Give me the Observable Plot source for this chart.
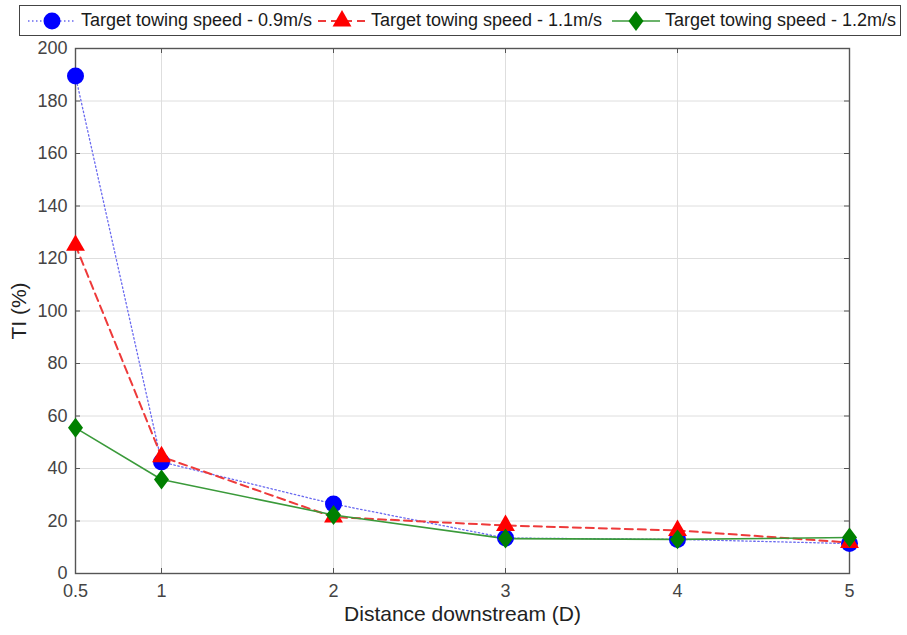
<!DOCTYPE html>
<html>
<head>
<meta charset="utf-8">
<script src="https://cdn.jsdelivr.net/npm/d3@7"></script>
<script src="https://cdn.jsdelivr.net/npm/@observablehq/plot@0.6"></script>
<style>
  html, body { margin: 0; padding: 0; background: #fff; }
  #wrap { position: relative; width: 907px; height: 635px; font-family: "Liberation Sans", Arial, sans-serif; }
  #legend { position: absolute; left: 19px; top: 5px; width: 880px; height: 29px; border: 1.5px solid #444;
            background: #fff; font-size: 18px; color: #1a1a1a; z-index: 2; }
  .item { position: absolute; top: 0; height: 29px; display: flex; align-items: center; }
  .item svg { display: block; }
  #chart { position: absolute; left: 0; top: 0; }
</style>
</head>
<body>
<div id="wrap">
  <div id="legend"></div>
  <div id="chart"></div>
</div>
<script>
const distance = [0.5, 1, 2, 3, 4, 5];
const ti09 = [189.5, 42.5, 26.5, 13.5, 13.0, 11.4];
const ti11 = [125.0, 44.5, 21.5, 18.3, 16.4, 11.8];
const ti12 = [55.5, 35.8, 22.3, 13.3, 13.0, 13.7];
const seriesNames = ["Target towing speed - 0.9m/s", "Target towing speed - 1.1m/s", "Target towing speed - 1.2m/s"];
const xTicks = [0.5, 1, 2, 3, 4, 5];
const yTicks = [0, 20, 40, 60, 80, 100, 120, 140, 160, 180, 200];

// MATLAB-like diamond: height 4/3 of width
const matDiamond = {
  draw(context, size) {
    const y = Math.sqrt(size / 1.5), x = y * 0.75;
    context.moveTo(0, -y); context.lineTo(x, 0); context.lineTo(0, y); context.lineTo(-x, 0); context.closePath();
  }
};
const symbolMap = {circle: d3.symbolCircle, triangle: d3.symbolTriangle, diamond: matDiamond};

const styles = [
  {line: "#6a6af0", width: 1.3, dash: "1.5,2.5", fill: "#0000ff", symbol: "circle", r: 8.5},
  {line: "#ee3a3a", width: 2, dash: "8,5", fill: "#ff0000", symbol: "triangle", r: 7},
  {line: "#3a9a3a", width: 1.6, dash: null, fill: "#008000", symbol: "diamond", r: 6.9}
];
const values = [ti09, ti11, ti12];
const data = values.map((vals, i) => distance.map((d, j) => ({x: d, y: vals[j], s: seriesNames[i]})));

const W = 907, H = 635, mL = 75, mR = 58, mT = 48, mB = 62;
const innerW = W - mL - mR, innerH = H - mT - mB, tk = 5;
const axisColor = "#555";

const marks = [
  Plot.gridX(xTicks, {stroke: "#dedede", strokeOpacity: 1}),
  Plot.gridY(yTicks, {stroke: "#dedede", strokeOpacity: 1}),
  // inward ticks on all four sides (MATLAB box style)
  Plot.tickY(yTicks, {y: d => d, insetRight: innerW - tk, stroke: axisColor}),
  Plot.tickY(yTicks, {y: d => d, insetLeft: innerW - tk, stroke: axisColor}),
  Plot.tickX(xTicks, {x: d => d, insetTop: innerH - tk, stroke: axisColor}),
  Plot.tickX(xTicks, {x: d => d, insetBottom: innerH - tk, stroke: axisColor}),
  Plot.frame({stroke: axisColor, strokeWidth: 1.4}),
  Plot.axisX(xTicks, {anchor: "bottom", tickSize: 0, tickPadding: 11, fontSize: 18, color: "#444",
    tickFormat: d => String(d), label: "Distance downstream (D)", labelAnchor: "center", labelArrow: "none", labelOffset: 47}),
  Plot.axisY(yTicks, {anchor: "left", tickSize: 0, tickPadding: 8, fontSize: 18, color: "#444",
    label: "TI (%)", labelAnchor: "center", labelArrow: "none", labelOffset: 64})
];
data.forEach((arr, i) => {
  const st = styles[i];
  marks.push(Plot.line(arr, {x: "x", y: "y", stroke: st.line, strokeWidth: st.width, strokeDasharray: st.dash}));
});
data.forEach((arr, i) => {
  const st = styles[i];
  marks.push(Plot.dot(arr, {x: "x", y: "y", symbol: () => symbolMap[st.symbol], r: st.r, fill: st.fill, stroke: "none"}));
});

const chart = Plot.plot({
  width: W,
  height: H,
  marginLeft: mL,
  marginRight: mR,
  marginTop: mT,
  marginBottom: mB,
  style: {fontFamily: "'Liberation Sans', Arial, sans-serif", fontSize: "18px", color: "#333", background: "#fff"},
  x: {type: "linear", domain: [0.5, 5]},
  y: {type: "linear", domain: [0, 200]},
  symbol: {type: "identity"},
  marks
});
// larger axis titles
chart.querySelectorAll("g[aria-label='x-axis label'] text, g[aria-label='y-axis label'] text").forEach(t => {
  t.setAttribute("font-size", "21px");
  t.style.fontSize = "21px";
  t.setAttribute("fill", "#222");
});
document.getElementById("chart").append(chart);

// legend
const legend = document.getElementById("legend");
const itemLeft = [7, 297, 591];
seriesNames.forEach((name, i) => {
  const st = styles[i];
  const item = document.createElement("div");
  item.className = "item";
  item.style.left = itemLeft[i] + "px";
  const w = 50, h = 26;
  const svg = d3.create("svg").attr("width", w).attr("height", h);
  svg.append("line").attr("x1", 1).attr("x2", w - 1).attr("y1", h / 2).attr("y2", h / 2)
    .attr("stroke", st.line).attr("stroke-width", st.width).attr("stroke-dasharray", st.dash);
  svg.append("path").attr("d", d3.symbol(symbolMap[st.symbol], Math.PI * st.r * st.r)())
    .attr("transform", `translate(${w / 2},${h / 2})`).attr("fill", st.fill);
  item.append(svg.node());
  const t = document.createElement("span");
  t.textContent = name;
  t.style.marginLeft = "4px";
  item.append(t);
  legend.append(item);
});
</script>
</body>
</html>
